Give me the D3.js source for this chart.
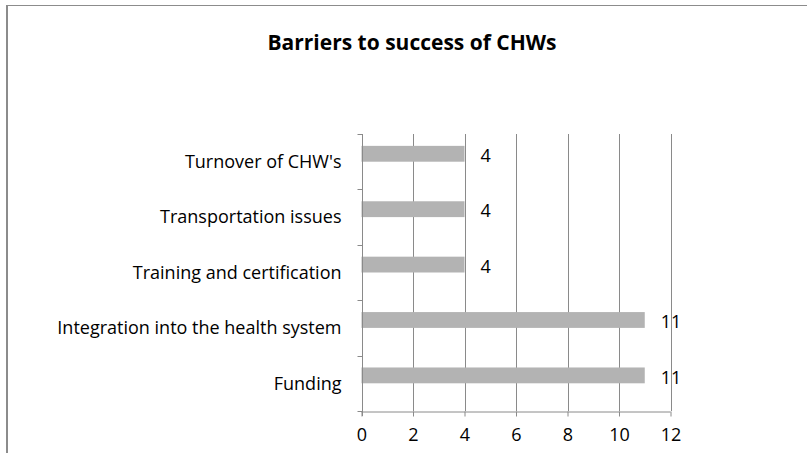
<!DOCTYPE html>
<html>
<head>
<meta charset="utf-8">
<script src="https://cdn.jsdelivr.net/npm/d3@7"></script>
<style>
  html, body { margin: 0; padding: 0; background: #fff; }
  svg { display: block; }
  text { font-family: "Open Sans", Lato, "Liberation Sans", sans-serif; fill: #000; }
</style>
</head>
<body>
<svg id="chart" width="807" height="453"></svg>
<script>
// Barriers reported for community health workers (CHWs)
const title = "Barriers to success of CHWs";
const categories = [
  "Turnover of CHW's",
  "Transportation issues",
  "Training and certification",
  "Integration into the health system",
  "Funding"
];
const counts = [4, 4, 4, 11, 11];
const xTicks = [0, 2, 4, 6, 8, 10, 12];

const W = 807, H = 453;
const plot = { left: 361.5, right: 670.5, top: 134, bottom: 411 };
const gridColor = "#8a8a8a";
const barColor = "#b3b3b3";
const labelSize = "18px";

const svg = d3.select("#chart");

// Chart frame (left and top edges visible)
svg.append("line")
  .attr("x1", 7).attr("x2", 7).attr("y1", 5).attr("y2", H)
  .attr("stroke", "#8c8c8c").attr("stroke-width", 2);
svg.append("line")
  .attr("x1", 6).attr("x2", W).attr("y1", 5.5).attr("y2", 5.5)
  .attr("stroke", "#8c8c8c").attr("stroke-width", 1);

// Title
svg.append("text")
  .attr("x", 412).attr("y", 50)
  .attr("text-anchor", "middle")
  .style("font-weight", "bold")
  .style("font-size", "21px")
  .text(title);

const x = d3.scaleLinear().domain([0, 12]).range([plot.left, plot.right]);
const y = d3.scaleBand().domain(categories).range([plot.top, plot.bottom])
  .paddingInner(0).paddingOuter(0);

// Vertical gridlines
svg.append("g")
  .selectAll("line")
  .data(xTicks.filter(d => d > 0))
  .join("line")
  .attr("x1", d => Math.round(x(d)) + 0.5).attr("x2", d => Math.round(x(d)) + 0.5)
  .attr("y1", plot.top).attr("y2", plot.bottom)
  .attr("stroke", gridColor).attr("stroke-width", 1);

// Bars: one of two series slots in each band, gap width 150%
const slot = y.bandwidth() / 3.5;
svg.append("g")
  .selectAll("rect")
  .data(categories)
  .join("rect")
  .attr("x", plot.left)
  .attr("y", d => y(d) + slot * 0.75)
  .attr("width", (d, i) => x(counts[i]) - x(0))
  .attr("height", slot)
  .attr("fill", barColor);

// Value labels
svg.append("g")
  .selectAll("text")
  .data(categories)
  .join("text")
  .attr("x", (d, i) => x(counts[i]) + 16)
  .attr("y", d => y(d) + slot * 1.25 + 2)
  .attr("dy", "0.35em")
  .style("font-size", labelSize)
  .text((d, i) => counts[i]);

// X axis
const xAxis = d3.axisBottom(x).tickValues(xTicks).tickSize(5).tickPadding(12);
const gx = svg.append("g")
  .attr("transform", `translate(0,${plot.bottom + 0.5})`)
  .call(xAxis);
gx.attr("font-family", null).attr("font-size", null);
gx.select(".domain").attr("stroke", gridColor).attr("d", `M${plot.left},0.5H${plot.right}`);
gx.selectAll(".tick line").attr("stroke", gridColor);
gx.selectAll(".tick text").style("font-size", labelSize).attr("fill", "#000");

// Y axis with ticks between categories
const gy = svg.append("g")
  .attr("transform", `translate(${Math.round(plot.left) + 0.5},0)`);
gy.append("line")
  .attr("x1", 0).attr("x2", 0).attr("y1", plot.top).attr("y2", plot.bottom + 5)
  .attr("stroke", gridColor);
const bounds = categories.map(c => y(c)).concat([plot.bottom]);
gy.selectAll("line.tick")
  .data(bounds)
  .join("line")
  .attr("class", "tick")
  .attr("x1", -5).attr("x2", 0)
  .attr("y1", d => Math.round(d) + 0.5).attr("y2", d => Math.round(d) + 0.5)
  .attr("stroke", gridColor);
gy.selectAll("text")
  .data(categories)
  .join("text")
  .attr("x", -21)
  .attr("y", d => y(d) + y.bandwidth() / 2)
  .attr("dy", "0.35em")
  .attr("text-anchor", "end")
  .style("font-size", labelSize)
  .text(d => d);
</script>
</body>
</html>
